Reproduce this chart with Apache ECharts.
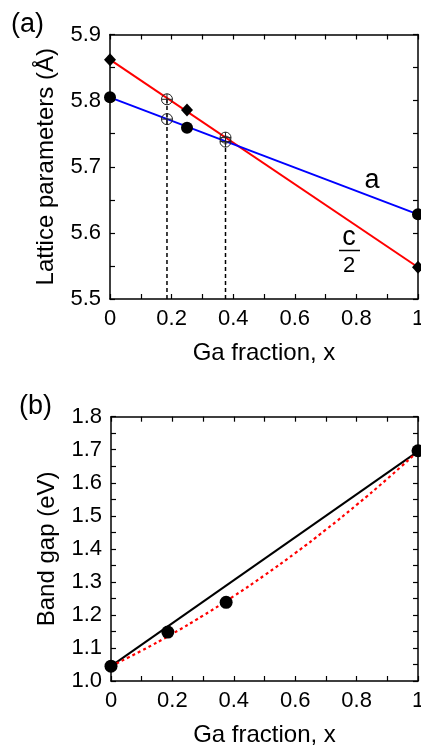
<!DOCTYPE html>
<html>
<head>
<meta charset="utf-8">
<script src="https://cdn.jsdelivr.net/npm/echarts@6/dist/echarts.min.js"></script>
<style>
  html, body { margin: 0; padding: 0; background: #fff; }
  #chart { width: 421px; height: 751px; }
</style>
</head>
<body>
<div id="chart"></div>
<script>
// (a) lattice parameters vs Ga fraction
const bulkX = [0, 0.25, 1]
const aValues = [5.805, 5.759, 5.628]
const cHalfValues = [5.862, 5.786, 5.548]
const fitX = [0, 1]
const aFit = [5.805, 5.628]
const cHalfFit = [5.862, 5.548]
const filmX = [0.185, 0.375]
const filmA = [5.772, 5.738]
const filmC = [5.802, 5.744]

// (b) band gap vs Ga fraction
const gapX = [0, 0.185, 0.375, 1]
const gapValues = [1.045, 1.148, 1.238, 1.697]
const linearX = [0, 1]
const linearGap = [1.045, 1.695]
const bowX = [0, 0.1, 0.2, 0.3, 0.4, 0.5, 0.6, 0.7, 0.8, 0.9, 1]
const bowGap = [1.045, 1.092, 1.143, 1.198, 1.257, 1.320, 1.387, 1.458, 1.533, 1.612, 1.695]

const FONT = '"Liberation Sans", Arial, sans-serif'
const pairs = (xs, ys) => xs.map((x, i) => [x, ys[i]])

const chart = echarts.init(document.getElementById('chart'))

const frameLine = { show: true, onZero: false, lineStyle: { color: '#000', width: 1.5 } }
const tick = { show: true, inside: true, length: 5, lineStyle: { color: '#000', width: 1.2 } }
const minor = { show: true, splitNumber: 2, length: 5, lineStyle: { color: '#000', width: 1.2 } }

function xAxes(grid) {
  return [
    {
      gridIndex: grid, type: 'value', min: 0, max: 1, interval: 0.2, position: 'bottom',
      axisLine: frameLine, axisTick: tick, minorTick: minor, splitLine: { show: false },
      axisLabel: {
        margin: 9, color: '#000', fontSize: 22, fontFamily: FONT,
        formatter: v => (v === 0 || v === 1) ? String(v) : v.toFixed(1)
      },
      name: 'Ga fraction, x', nameLocation: 'middle', nameGap: 42,
      nameTextStyle: { color: '#000', fontSize: 24, fontFamily: FONT }
    },
    {
      gridIndex: grid, type: 'value', min: 0, max: 1, interval: 0.2, position: 'top',
      axisLine: frameLine, axisTick: tick, minorTick: minor, splitLine: { show: false },
      axisLabel: { show: false }
    }
  ]
}

function yAxes(grid, min, max, name) {
  return [
    {
      gridIndex: grid, type: 'value', min, max, interval: 0.1, position: 'left',
      axisLine: frameLine, axisTick: tick, minorTick: minor, splitLine: { show: false },
      axisLabel: { margin: 9, color: '#000', fontSize: 22, fontFamily: FONT, formatter: v => v.toFixed(1) },
      name, nameLocation: 'middle', nameGap: 52,
      nameTextStyle: { color: '#000', fontSize: 24, fontFamily: FONT }
    },
    {
      gridIndex: grid, type: 'value', min, max, interval: 0.1, position: 'right',
      axisLine: frameLine, axisTick: tick, minorTick: minor, splitLine: { show: false },
      axisLabel: { show: false }
    }
  ]
}

const crossCircle = 'path://M10,0A10,10,0,1,1,-10,0A10,10,0,1,1,10,0ZM-10,0L10,0M0,-10L0,10'

chart.setOption({
  animation: false,
  backgroundColor: '#fff',
  grid: [
    { left: 110, right: 3, top: 34.5, height: 264.5, containLabel: false, outerBoundsMode: 'none' },
    { left: 111, right: 3, top: 416.7, height: 264.3, containLabel: false, outerBoundsMode: 'none' }
  ],
  xAxis: [...xAxes(0), ...xAxes(1)],
  yAxis: [
    ...yAxes(0, 5.5, 5.9, 'Lattice parameters (Å)'),
    ...yAxes(1, 1.0, 1.8, 'Band gap (eV)')
  ],
  graphic: [
    { type: 'text', left: 11, top: 11, style: { text: '(a)', fontSize: 27, fontFamily: FONT, fill: '#000' } },
    { type: 'text', left: 19, top: 393, style: { text: '(b)', fontSize: 27, fontFamily: FONT, fill: '#000' } },
    { type: 'text', x: 372, y: 181, style: { text: 'a', fontSize: 27, fontFamily: FONT, fill: '#000', align: 'center', verticalAlign: 'middle' } },
    { type: 'text', x: 349, y: 238, style: { text: 'c', fontSize: 27, fontFamily: FONT, fill: '#000', align: 'center', verticalAlign: 'middle' } },
    { type: 'line', shape: { x1: 339, y1: 250.5, x2: 360, y2: 250.5 }, style: { stroke: '#000', lineWidth: 1.5 } },
    { type: 'text', x: 349, y: 266, style: { text: '2', fontSize: 22, fontFamily: FONT, fill: '#000', align: 'center', verticalAlign: 'middle' } }
  ],
  series: [
    // (a)
    ...filmX.map((x, i) => ({
      type: 'line', xAxisIndex: 0, yAxisIndex: 0, data: [[x, 5.5], [x, filmC[i]]],
      symbol: 'none', z: 1, lineStyle: { color: '#000', width: 1.5, type: [4, 3] }
    })),
    {
      type: 'line', xAxisIndex: 0, yAxisIndex: 0, data: pairs(fitX, cHalfFit),
      symbol: 'none', z: 2, lineStyle: { color: '#ff0000', width: 2 }
    },
    {
      type: 'line', xAxisIndex: 0, yAxisIndex: 0, data: pairs(fitX, aFit),
      symbol: 'none', z: 2, lineStyle: { color: '#0000ff', width: 2 }
    },
    {
      type: 'scatter', xAxisIndex: 0, yAxisIndex: 0, clip: false, z: 3,
      data: [...pairs(filmX, filmA), ...pairs(filmX, filmC)],
      symbol: crossCircle, symbolSize: 11,
      itemStyle: { color: 'rgba(255,255,255,0)', borderColor: '#222', borderWidth: 1, opacity: 1 }
    },
    {
      type: 'scatter', xAxisIndex: 0, yAxisIndex: 0, clip: false, z: 4,
      data: pairs(bulkX, aValues), symbol: 'circle', symbolSize: 12, itemStyle: { color: '#000', opacity: 1 }
    },
    {
      type: 'scatter', xAxisIndex: 0, yAxisIndex: 0, clip: false, z: 4,
      data: pairs(bulkX, cHalfValues), symbol: 'diamond', symbolSize: [12, 13], itemStyle: { color: '#000', opacity: 1 }
    },
    // (b)
    {
      type: 'line', xAxisIndex: 2, yAxisIndex: 2, data: pairs(linearX, linearGap),
      symbol: 'none', z: 2, lineStyle: { color: '#000', width: 2 }
    },
    {
      type: 'line', xAxisIndex: 2, yAxisIndex: 2, data: pairs(bowX, bowGap), smooth: true,
      symbol: 'none', z: 2, lineStyle: { color: '#ff0000', width: 2.2, type: [3, 3] }
    },
    {
      type: 'scatter', xAxisIndex: 2, yAxisIndex: 2, clip: false, z: 4,
      data: pairs(gapX, gapValues), symbol: 'circle', symbolSize: 13, itemStyle: { color: '#000', opacity: 1 }
    }
  ]
})
</script>
</body>
</html>
